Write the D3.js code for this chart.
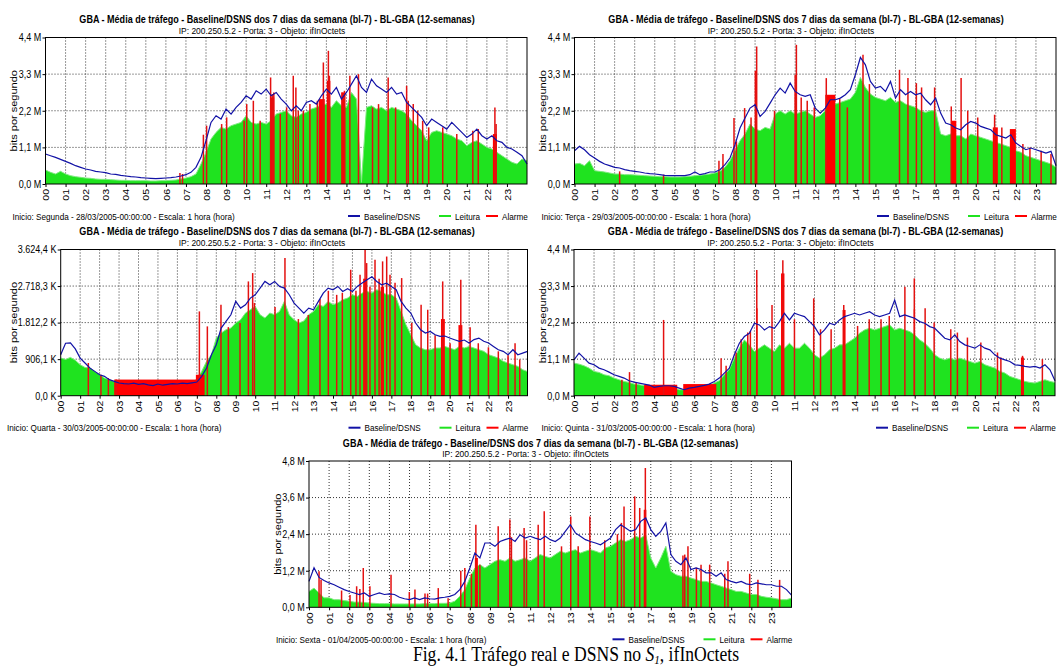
<!DOCTYPE html>
<html>
<head>
<meta charset="utf-8">
<script src="https://cdn.jsdelivr.net/npm/d3@7"></script>
<style>
  body { margin: 0; background: #fff; }
  svg { display: block; }
  text { font-family: "Liberation Sans", Arial, sans-serif; fill: #000; }
</style>
</head>
<body>
<svg id="chart" width="1058" height="668"></svg>
<script>
// sample times: every 15 minutes, 00:00 .. 24:00
var hours = d3.range(97).map(function(i) { return i / 4; });
var hourTicks = d3.range(24);

var titleText = "GBA - Média de tráfego - Baseline/DSNS dos 7 dias da semana (bl-7) - BL-GBA (12-semanas)";
var subtitleText = "IP: 200.250.5.2 - Porta: 3 - Objeto: ifInOctets";
var legendNames = ["Baseline/DSNS", "Leitura", "Alarme"];

var ticksMon = [0, 1.1, 2.2, 3.3, 4.4];
var ticksWed = [0, 906.1, 1812.2, 2718.3, 3624.4];
var ticksFri = [0, 1.2, 2.4, 3.6, 4.8];

// ---- Segunda 28/03 (M) ----
var baseMon = [0.90,0.85,0.80,0.74, 0.68,0.62,0.55,0.50, 0.45,0.42,0.38,0.36, 0.34,0.30,0.29,0.26,
  0.24,0.22,0.21,0.19, 0.18,0.17,0.16,0.17, 0.18,0.19,0.21,0.24, 0.28,0.35,0.50,0.80,
  1.30,1.85,2.05,1.95, 2.25,2.10,2.30,2.45, 2.65,2.55,2.80,2.70, 2.85,2.65,2.75,2.55,
  2.40,2.20,2.35,2.20, 2.45,2.50,2.40,2.65, 2.85,2.70,2.90,2.55, 2.75,3.00,3.25,2.90,
  2.75,3.15,2.95,2.85, 2.75,2.90,2.70,2.75, 2.45,2.30,2.15,2.00, 1.75,1.95,1.85,1.75,
  1.65,1.85,1.70,1.55, 1.40,1.50,1.65,1.45, 1.35,1.45,1.30,1.25, 1.10,1.05,0.95,0.85, 0.60];
var readMon = [0.42,0.35,0.30,0.38, 0.30,0.25,0.22,0.20, 0.18,0.17,0.15,0.14, 0.14,0.13,0.12,0.11,
  0.11,0.10,0.10,0.10, 0.10,0.09,0.09,0.10, 0.10,0.11,0.12,0.15, 0.18,0.22,0.30,0.60,
  0.95,1.35,1.55,1.70, 1.65,1.75,1.80,1.85, 2.05,1.85,1.80,1.85, 1.80,1.90,2.10,2.15,
  2.20,2.05,2.00,2.10, 2.15,2.25,2.30,2.35, 2.40,2.30,2.50,2.35, 2.30,2.75,2.55,0.05,
  2.30,2.35,2.25,2.30, 2.20,2.30,2.25,2.20, 2.10,1.90,1.75,1.60, 1.30,1.55,1.60,1.55,
  1.50,1.45,1.35,1.30, 1.15,1.25,1.30,1.20, 1.10,1.05,0.95,0.85, 0.75,0.65,0.60,0.75, 0.70];
var alarmMon = [[6.70,0.33],[6.83,0.30],[7.87,1.48],[8.03,1.75],[8.78,1.80],[9.03,2.00],[9.90,1.90],
  [10.03,2.40],[10.36,2.50],[10.70,1.90],[11.22,3.20],[11.30,2.70],[11.38,2.75],[11.70,2.10],
  [12.02,2.30],[12.35,3.25],[12.48,2.90],[12.60,2.20],[12.85,2.20],[13.18,2.40],[13.55,2.50],
  [13.85,3.65],[14.10,4.00],[14.15,3.25],[14.78,2.75],[14.90,2.80],[15.17,3.25],[15.60,3.30],
  [16.30,2.30],[16.60,2.40],[17.08,3.20],[17.45,2.30],[18.00,2.95],[18.08,2.50],[18.33,2.40],
  [18.55,2.20],[18.80,1.90],[19.10,1.70],[19.80,1.70],[20.50,1.50],[21.30,1.60],[21.57,1.65],
  [22.40,2.30],[22.46,1.80]];
var blocksMon = [[11.22,11.40,2.60],[13.62,13.92,2.55],[14.02,14.20,3.10],[14.75,14.95,2.75],[22.30,22.50,1.50]];

// ---- Terça 29/03 (M) ----
var baseTue = [1.00,1.13,1.03,0.88, 0.78,0.68,0.60,0.55, 0.50,0.48,0.43,0.40, 0.38,0.36,0.33,0.31,
  0.30,0.28,0.26,0.25, 0.25,0.25,0.25,0.28, 0.36,0.28,0.31,0.36, 0.36,0.43,0.58,0.78,
  1.18,1.68,1.98,2.28, 2.38,2.03,2.18,2.43, 2.68,2.88,2.73,3.03, 2.78,2.68,2.63,2.68,
  2.28,2.13,2.28,2.53, 2.53,2.58,2.68,2.83, 3.28,3.80,3.58,3.08, 2.88,2.93,2.78,3.08,
  2.58,2.83,2.68,2.78, 2.68,2.73,2.53,2.38, 2.58,2.13,1.83,1.78, 1.68,1.63,1.78,1.88,
  1.83,1.73,1.68,1.63, 1.48,1.43,1.38,1.48, 1.23,1.13,1.03,1.08, 1.03,0.98,0.93,0.98, 0.55];
var readTue = [0.60,0.62,0.55,0.70, 0.40,0.38,0.36,0.33, 0.30,0.30,0.28,0.28, 0.27,0.26,0.25,0.24,
  0.23,0.22,0.22,0.21, 0.21,0.21,0.22,0.23, 0.25,0.26,0.28,0.30, 0.33,0.38,0.50,0.70,
  1.00,1.30,1.50,1.80, 1.65,1.60,1.70,1.65, 2.10,2.20,2.10,2.20, 2.10,2.15,2.20,2.10,
  2.00,2.05,2.20,2.30, 2.40,2.45,2.50,2.55, 2.75,3.20,2.90,2.70, 2.60,2.55,2.50,2.60,
  2.45,2.50,2.40,2.35, 2.30,2.20,2.15,2.20, 2.20,1.50,1.45,1.50, 1.45,1.45,1.35,1.50,
  1.45,1.40,1.35,1.30, 1.25,1.20,1.15,1.10, 1.00,0.95,0.85,0.80, 0.75,0.70,0.65,0.60, 0.50];
var alarmTue = [[2.25,0.38],[4.44,0.28],[7.20,0.70],[7.40,0.90],[7.95,1.98],[8.07,1.28],[8.48,2.28],
  [8.80,2.00],[9.03,3.38],[9.08,4.13],[9.97,2.20],[11.00,3.28],[11.06,4.18],[11.30,2.60],[11.60,2.50],
  [11.95,2.30],[12.55,3.18],[13.22,2.55],[13.60,2.30],[14.38,3.88],[14.70,3.00],[16.20,3.43],
  [16.62,3.18],[17.04,3.03],[17.30,2.90],[17.95,2.90],[18.78,2.33],[19.27,3.18],[19.60,2.20],
  [20.10,2.00],[20.94,2.08],[21.30,1.70],[22.35,1.20],[22.70,1.10],[23.26,1.00],[23.75,0.90]];
var blocksTue = [[8.98,9.08,3.40],[10.98,11.08,2.80],[12.50,13.00,2.68],[18.78,19.03,1.90],[20.85,21.10,1.70],[21.70,22.00,1.65]];

// ---- Quarta 30/03 (K) ----
var baseWed = [1016,1300,1310,1160, 933,810,686,603, 520,480,397,355, 314,300,290,310,
  280,300,270,250, 290,260,280,300, 290,310,300,320, 339,480,686,1016,
  1264,1677,1842,2007, 2338,2172,2255,2420, 2503,2668,2833,2750, 2833,2709,2668,2503,
  2296,2172,2048,2172, 2131,2338,2544,2668, 2627,2709,2585,2650, 2585,2709,2792,2875,
  2950,2833,2750,2790, 2709,2627,2338,2172, 2048,1801,1636,1553, 1594,1512,1470,1480,
  1429,1388,1346,1380, 1305,1390,1429,1350, 1305,1222,1140,1099, 1016,1140,1016,1057, 1100];
var readWed = [933,900,950,880, 768,700,686,600, 520,438,397,350, 330,320,310,320,
  300,310,300,290, 300,290,300,310, 300,320,330,350, 400,603,851,1016,
  1429,1553,1636,1677, 1801,1883,2048,2131, 2214,2007,1925,2050, 2007,2090,2338,2000,
  1883,1801,1850,2007, 2090,2255,2214,2338, 2255,2300,2379,2420, 2503,2460,2544,2585,
  2544,2627,2585,2503, 2503,2420,2090,1760, 1512,1264,1181,1140, 1140,1181,1181,1222,
  1181,1140,1222,1181, 1222,1181,1140,1099, 1016,975,933,851, 810,768,727,644, 600];
var alarmWed = [[1.42,810],[2.07,520],[2.45,438],[2.85,400],[7.13,2090],[7.54,1718],[8.24,2255],
  [8.62,1700],[9.22,1800],[9.65,2833],[9.87,3040],[9.96,2300],[11.02,2200],[11.53,3411],[12.22,1900],
  [12.73,2000],[13.33,2400],[13.76,2600],[14.19,2500],[14.48,2550],[14.91,3122],[15.18,2600],
  [15.39,3000],[15.65,3618],[15.73,3288],[15.90,2700],[16.16,3370],[16.37,2900],[16.55,3330],
  [16.76,3450],[16.93,3000],[17.19,2800],[17.53,2916],[18.05,1800],[18.53,2255],[18.87,2131],
  [19.25,1500],[19.64,2833],[20.02,1300],[20.57,2875],[21.05,1700],[21.47,1300],[21.99,1200],
  [22.50,1100],[23.00,1000],[23.36,1300],[23.60,900]];
var blocksWed = [[2.75,7.10,400],[6.95,7.40,520],[15.55,15.75,2900],[16.45,16.62,2700],[19.55,19.75,1900],[20.45,20.65,1750]];

// ---- Quinta 31/03 (M) ----
var baseThu = [1.08,1.28,1.13,0.98, 0.93,0.83,0.78,0.71, 0.63,0.58,0.53,0.45, 0.41,0.38,0.35,0.32,
  0.25,0.28,0.30,0.30, 0.28,0.23,0.18,0.23, 0.25,0.28,0.31,0.35, 0.43,0.53,0.68,0.83,
  1.23,1.58,1.78,1.88, 2.18,2.13,1.98,2.08, 2.03,2.23,2.48,2.28, 2.48,2.43,2.38,2.23,
  2.08,1.83,1.98,2.18, 2.13,2.28,2.38,2.43, 2.48,2.43,2.48,2.53, 2.43,2.38,2.43,2.48,
  2.88,2.38,2.43,2.38, 2.33,2.23,2.18,2.08, 2.03,1.88,1.73,1.68, 1.83,1.63,1.53,1.48,
  1.43,1.53,1.43,1.38, 1.23,1.13,1.08,1.03, 0.93,0.91,0.88,0.86, 0.88,0.83,0.93,0.78, 0.45];
var readThu = [0.98,0.95,0.90,0.83, 0.73,0.70,0.63,0.60, 0.53,0.48,0.43,0.40, 0.35,0.33,0.30,0.26,
  0.23,0.23,0.23,0.22, 0.22,0.18,0.18,0.20, 0.22,0.23,0.25,0.30, 0.38,0.45,0.63,0.78,
  1.13,1.43,1.68,1.53, 1.33,1.43,1.53,1.43, 1.33,1.53,1.43,1.58, 1.43,1.43,1.58,1.43,
  1.23,1.13,1.23,1.38, 1.43,1.53,1.53,1.63, 1.73,1.88,1.98,2.03, 1.98,2.03,2.08,2.13,
  1.98,2.03,1.98,1.93, 1.83,1.68,1.58,1.43, 1.23,1.13,1.08,1.13, 1.08,1.13,1.08,1.03,
  0.98,1.03,0.93,0.88, 0.83,0.73,0.68,0.58, 0.53,0.48,0.43,0.40, 0.38,0.43,0.48,0.43, 0.40];
var alarmThu = [[2.39,0.48],[2.77,0.71],[3.10,0.40],[4.47,2.28],[7.34,1.13],[7.59,0.90],[8.09,1.30],
  [8.34,1.70],[8.67,1.90],[8.80,1.95],[9.12,3.78],[9.88,2.73],[10.42,4.08],[11.00,2.30],[11.96,2.93],
  [12.30,2.00],[12.83,2.00],[13.46,2.73],[14.15,2.10],[14.73,2.30],[15.32,2.30],[15.73,2.40],
  [16.51,3.28],[16.98,3.53],[17.52,2.63],[17.97,2.20],[18.80,2.00],[19.13,1.90],[19.63,1.75],
  [20.30,1.60],[21.13,1.30],[21.30,1.15],[22.38,1.20],[23.37,1.10]];
var blocksThu = [[3.50,5.15,0.33],[5.45,7.10,0.35],[9.08,9.16,2.63],[10.33,10.50,3.68],[13.40,13.55,2.58],[16.95,17.02,2.60],[22.30,22.45,1.15]];

// ---- Sexta 01/04 (M) ----
var baseFri = [0.85,1.30,0.98,0.88, 0.80,0.74,0.66,0.58, 0.52,0.47,0.42,0.47, 0.36,0.42,0.47,0.42,
  0.44,0.42,0.33,0.28, 0.25,0.31,0.25,0.31, 0.28,0.27,0.31,0.33, 0.36,0.42,0.58,0.85,
  1.29,1.78,1.62,2.11, 2.11,2.00,2.16,2.22, 2.27,2.16,2.38,2.27, 2.33,2.27,2.22,2.33,
  2.22,2.16,2.27,2.49, 2.71,2.44,2.33,2.22, 2.16,2.11,2.05,2.16, 2.27,2.55,2.71,2.60,
  2.49,2.55,2.82,2.93, 2.55,2.33,2.49,2.77, 1.73,1.51,1.40,1.62, 1.24,1.29,1.24,1.13,
  1.13,1.02,1.13,0.91, 0.85,0.80,0.85,0.77, 0.74,0.80,0.77,0.74, 0.74,0.69,0.69,0.58, 0.40];
var readFri = [0.52,0.63,0.47,0.31, 0.31,0.25,0.25,0.22, 0.20,0.17,0.17,0.16, 0.14,0.13,0.12,0.12,
  0.12,0.11,0.11,0.11, 0.11,0.11,0.11,0.12, 0.12,0.12,0.13,0.13, 0.14,0.20,0.36,0.58,
  0.96,1.29,1.40,1.29, 1.40,1.51,1.56,1.51, 1.62,1.51,1.56,1.62, 1.51,1.62,1.73,1.67,
  1.62,1.73,1.84,1.78, 1.84,1.89,1.78,1.84, 1.89,1.84,1.78,1.95, 2.00,2.11,2.22,2.16,
  2.22,2.33,2.27,2.38, 1.62,1.29,1.62,2.00, 1.18,1.07,1.02,1.02, 0.96,0.91,0.85,0.85,
  0.80,0.74,0.69,0.63, 0.58,0.52,0.52,0.47, 0.42,0.42,0.36,0.33, 0.31,0.28,0.25,0.25, 0.30];
var alarmFri = [[0.50,1.18],[0.60,0.90],[1.62,0.55],[2.04,0.40],[2.37,0.69],[2.53,0.60],[2.70,1.29],
  [3.03,0.69],[4.08,1.07],[4.99,0.50],[5.27,0.58],[5.77,0.45],[5.90,0.45],[6.43,0.63],[6.92,0.30],
  [7.55,1.20],[7.75,1.29],[8.08,1.10],[8.30,2.71],[8.50,1.40],[9.41,2.66],[9.99,2.88],[10.07,2.30],
  [10.70,2.60],[10.82,2.20],[11.40,2.71],[11.70,3.15],[12.56,2.00],[13.02,2.98],[13.39,2.00],
  [13.97,2.98],[14.71,2.20],[15.34,2.40],[15.54,2.77],[15.67,3.31],[16.20,3.64],[16.45,3.26],
  [16.73,4.57],[18.60,1.70],[18.69,1.73],[18.85,2.00],[19.27,1.30],[19.50,1.40],[19.93,1.40],
  [20.68,1.10],[20.84,1.51],[21.92,1.10],[22.33,0.90],[23.41,0.90]];
var blocksFri = [[8.25,8.40,1.62],[16.65,16.78,3.20]];

var panels = [
  {x0: 0,     top: 37.5,  bottom: 184,   left: 45.5,  right: 527,    max: 4.4,    ticks: ticksMon, unit: " M", infoX: 12.5,
   info: "Inicio: Segunda - 28/03/2005-00:00:00 - Escala: 1 hora (hora)", base: baseMon, read: readMon, alarm: alarmMon, blocks: blocksMon},
  {x0: 529,   top: 37.5,  bottom: 184,   left: 574.5, right: 1056,   max: 4.4,    ticks: ticksMon, unit: " M", infoX: 12.5,
   info: "Inicio: Terça - 29/03/2005-00:00:00 - Escala: 1 hora (hora)", base: baseTue, read: readTue, alarm: alarmTue, blocks: blocksTue},
  {x0: 0,     top: 249.5, bottom: 395.7, left: 60.7,  right: 527.5,  max: 3624.4, ticks: ticksWed, unit: " K", infoX: 7,
   info: "Inicio: Quarta - 30/03/2005-00:00:00 - Escala: 1 hora (hora)", base: baseWed, read: readWed, alarm: alarmWed, blocks: blocksWed},
  {x0: 528.5, top: 249.5, bottom: 395.7, left: 574,   right: 1055,   max: 4.4,    ticks: ticksMon, unit: " M", infoX: 13,
   info: "Inicio: Quinta - 31/03/2005-00:00:00 - Escala: 1 hora (hora)", base: baseThu, read: readThu, alarm: alarmThu, blocks: blocksThu},
  {x0: 263.5, top: 461,   bottom: 607.3, left: 309,   right: 791.5,  max: 4.8,    ticks: ticksFri, unit: " M", infoX: 12.5,
   info: "Inicio: Sexta - 01/04/2005-00:00:00 - Escala: 1 hora (hora)", base: baseFri, read: readFri, alarm: alarmFri, blocks: blocksFri}
];

var SX = 0.86; // the screenshots are squeezed horizontally
var ptBR = d3.formatLocale({decimal: ",", thousands: ".", grouping: [3], currency: ["", ""]});
var fmt = ptBR.format(",.1f");

var green = "#1fe31f", blue = "#1212a6", red = "#ff0000";

var svg = d3.select("#chart");

function label(g, x, y, str, size, anchor, weight) {
  return g.append("text")
      .attr("transform", "translate(" + x + "," + y + ") scale(" + SX + ",1)")
      .attr("text-anchor", anchor || "start")
      .style("font-size", size + "px")
      .style("font-weight", weight || "normal")
      .text(str);
}

function drawPanel(p) {
  var g = svg.append("g");
  var x = d3.scaleLinear().domain([0, 24]).range([p.left, p.right]);
  var y = d3.scaleLinear().domain([0, p.max]).range([p.bottom, p.top]);

  // dotted grid
  g.append("g").selectAll("line")
    .data(p.ticks.slice(1, -1))
    .enter().append("line")
      .attr("x1", p.left).attr("x2", p.right)
      .attr("y1", function(d) { return y(d); }).attr("y2", function(d) { return y(d); })
      .attr("stroke", "#333").attr("stroke-dasharray", "1,2");
  g.append("g").selectAll("line")
    .data(hourTicks.slice(1))
    .enter().append("line")
      .attr("x1", function(d) { return x(d); }).attr("x2", function(d) { return x(d); })
      .attr("y1", p.top).attr("y2", p.bottom)
      .attr("stroke", "#333").attr("stroke-dasharray", "1,2");

  // Leitura (green)
  var area = d3.area()
      .x(function(d, i) { return x(hours[i]); })
      .y0(p.bottom)
      .y1(function(d) { return y(d); });
  g.append("path").datum(p.read)
      .attr("d", area)
      .attr("fill", green);
  g.append("path").datum(p.read)
      .attr("d", d3.line().x(function(d, i) { return x(hours[i]); }).y(function(d) { return y(d); }))
      .attr("fill", "none").attr("stroke", "#7fea7f").attr("stroke-width", 1);

  // Alarme (red)
  g.append("g").selectAll("rect")
    .data(p.blocks)
    .enter().append("rect")
      .attr("x", function(d) { return x(d[0]); })
      .attr("width", function(d) { return x(d[1]) - x(d[0]); })
      .attr("y", function(d) { return y(d[2]); })
      .attr("height", function(d) { return p.bottom - y(d[2]); })
      .attr("fill", red);
  g.append("g").selectAll("line")
    .data(p.alarm)
    .enter().append("line")
      .attr("x1", function(d) { return x(d[0]); }).attr("x2", function(d) { return x(d[0]); })
      .attr("y1", p.bottom).attr("y2", function(d) { return y(d[1]); })
      .attr("stroke", "#e41010").attr("stroke-width", 1.5);

  // Baseline/DSNS (blue)
  g.append("path").datum(p.base)
      .attr("d", d3.line().x(function(d, i) { return x(hours[i]); }).y(function(d) { return y(d); }))
      .attr("fill", "none").attr("stroke", blue).attr("stroke-width", 1.2);

  // frame
  g.append("rect")
      .attr("x", p.left).attr("y", p.top)
      .attr("width", p.right - p.left).attr("height", p.bottom - p.top)
      .attr("fill", "none").attr("stroke", "#000");

  // axes
  var yAxis = g.append("g")
      .attr("transform", "translate(" + p.left + ",0)")
      .call(d3.axisLeft(y).tickValues(p.ticks).tickSize(3).tickPadding(2)
        .tickFormat(function(d) { return fmt(d) + p.unit; }));
  yAxis.select(".domain").remove();
  yAxis.selectAll("text")
      .attr("transform", "scale(" + SX + ",1)")
      .style("font-size", "10.5px").style("font-family", "Liberation Sans, Arial, sans-serif");

  var xAxis = g.append("g")
      .attr("transform", "translate(0," + p.bottom + ")")
      .call(d3.axisBottom(x).tickValues(hourTicks).tickSize(3)
        .tickFormat(function(d) { return (d < 10 ? "0" : "") + d; }));
  xAxis.select(".domain").remove();
  xAxis.selectAll("text")
      .attr("transform", "scale(" + SX + ",1) rotate(-90)")
      .attr("text-anchor", "end")
      .attr("x", -5).attr("y", 0).attr("dy", "0.35em")
      .style("font-size", "10.5px").style("font-family", "Liberation Sans, Arial, sans-serif");

  // titles
  label(g, p.x0 + 277, p.top - 14.5, titleText, 10.5, "middle", "bold");
  label(g, p.x0 + 262, p.top - 4, subtitleText, 9.8, "middle");

  g.append("text")
      .attr("transform", "translate(" + (p.x0 + 14) + "," + ((p.top + p.bottom) / 2) + ") scale(" + SX + ",1) rotate(-90)")
      .attr("text-anchor", "middle").attr("dy", "0.35em")
      .style("font-size", "11px")
      .text("bits por segundo");

  label(g, p.x0 + p.infoX, p.bottom + 35.5, p.info, 9.5);

  // legend
  var ly = p.bottom + 32;
  var items = [
    {name: legendNames[0], color: blue, lx: p.right - 179},
    {name: legendNames[1], color: green, lx: p.right - 88},
    {name: legendNames[2], color: red, lx: p.right - 41}
  ];
  items.forEach(function(it) {
    g.append("line")
        .attr("x1", it.lx).attr("x2", it.lx + 12)
        .attr("y1", ly).attr("y2", ly)
        .attr("stroke", it.color).attr("stroke-width", 2);
    label(g, it.lx + 16, p.bottom + 35.5, it.name, 9.5);
  });
}

panels.forEach(drawPanel);

// figure caption
var cap = svg.append("text")
    .attr("transform", "translate(576,661) scale(" + SX + ",1)")
    .attr("text-anchor", "middle")
    .style("font-family", "'Liberation Serif', 'Times New Roman', serif")
    .style("font-size", "20.5px");
cap.append("tspan").text("Fig. 4.1 Tráfego real e DSNS no ");
cap.append("tspan").style("font-style", "italic").text("S");
cap.append("tspan").style("font-style", "italic").style("font-size", "13px").attr("dy", 3).text("1");
cap.append("tspan").attr("dy", -3).text(", ifInOctets");
</script>
</body>
</html>
